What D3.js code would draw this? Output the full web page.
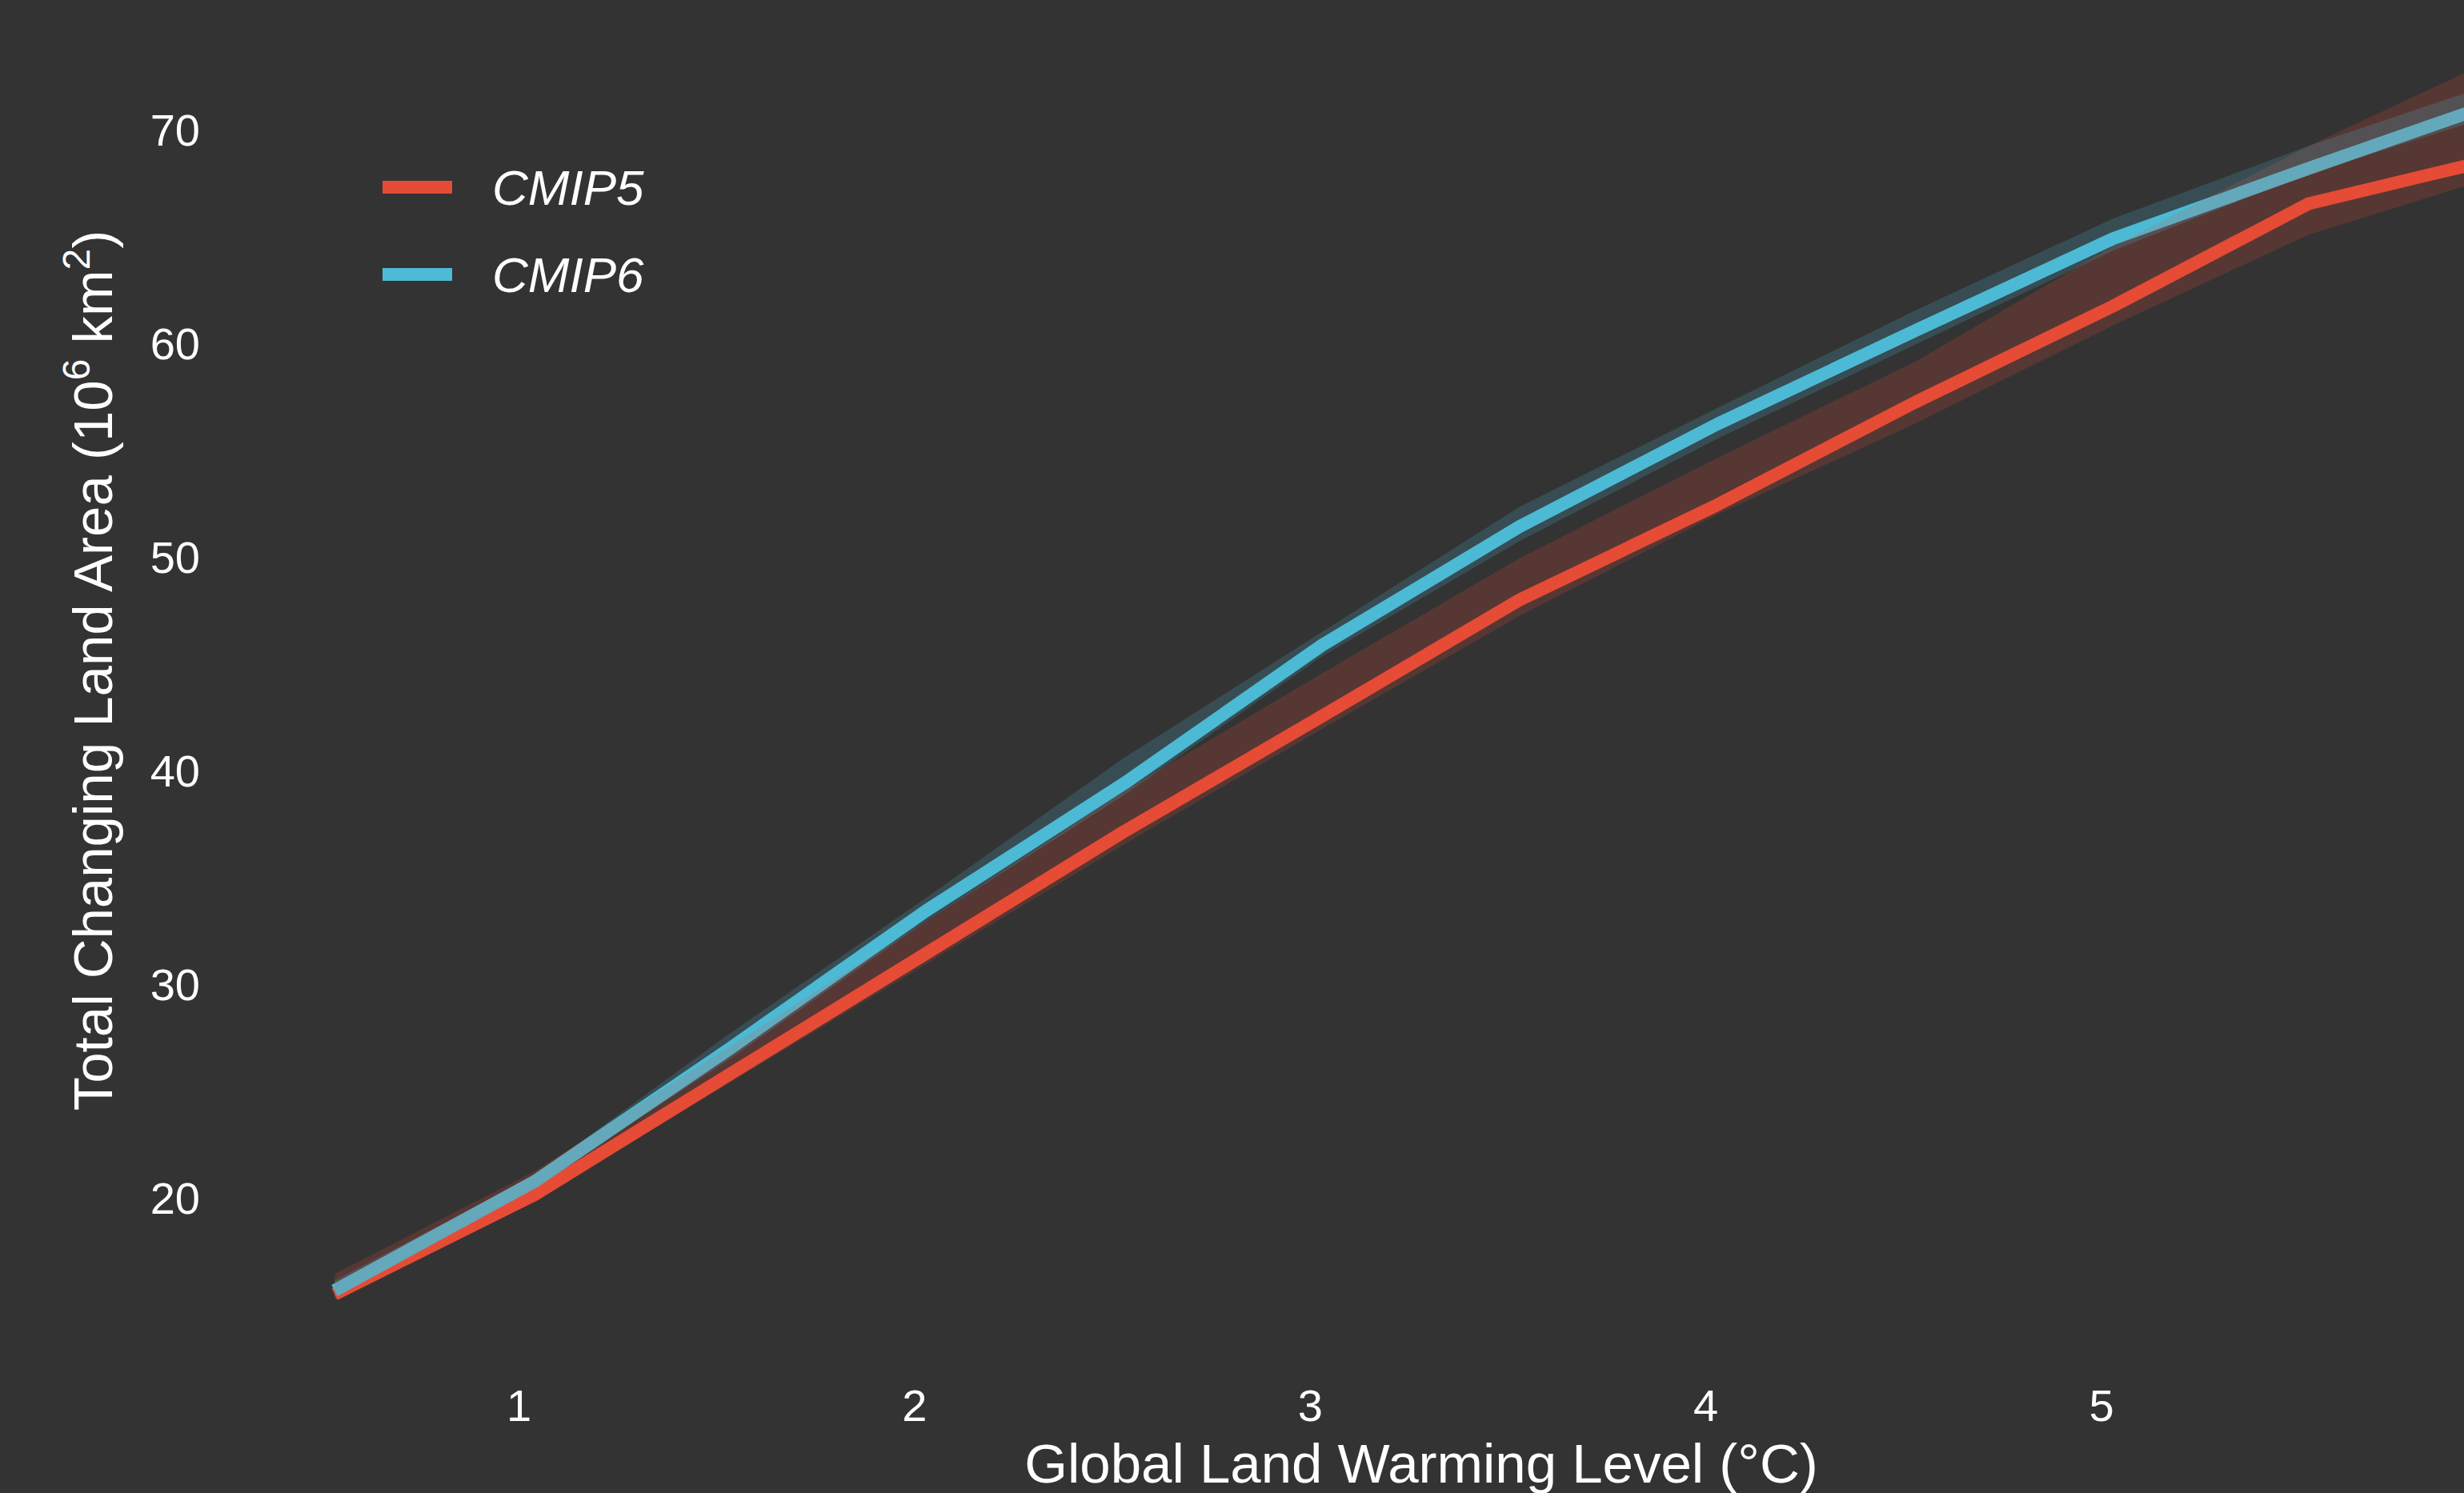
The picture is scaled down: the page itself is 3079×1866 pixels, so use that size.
<!DOCTYPE html>
<html lang="en">
	<head>
		<meta charset="utf-8">
		<title>Total Changing Land Area</title>
		<script src="https://d3js.org/d3.v7.min.js"></script>
		<style type="text/css">
			body {
				margin: 0;
				background-color: #333333;
			}
			svg text {
				font-family: "Liberation Sans", Arial, Helvetica, sans-serif;
				fill: #ffffff;
			}
		</style>
	</head>
	<body>
		<script type="text/javascript">

			//Data
			var warming = [0.535, 1.04, 1.53, 2.03, 2.53, 3.03, 3.53, 4.03, 4.53, 5.03, 5.525, 6.02];

			var cmip5Mean  = [15.45, 20.1, 25.7, 31.4, 37.1, 42.5, 47.95, 52.4, 57.2, 61.7, 66.5, 68.7];
			var cmip5Upper = [16.4, 21.2, 27.0, 32.9, 39.0, 44.5, 49.9, 54.6, 59.1, 64.5, 69.2, 73.5];
			var cmip5Lower = [15.2, 19.8, 25.3, 30.9, 36.5, 41.9, 47.2, 51.95, 56.2, 60.8, 65.05, 67.9];

			var cmip6Mean  = [15.62, 20.72, 26.9, 33.4, 39.35, 45.82, 51.38, 56.18, 60.55, 64.86, 68.15, 71.35];
			var cmip6Upper = [16.1, 21.0, 27.6, 34.0, 40.55, 46.44, 52.3, 56.93, 61.5, 65.8, 69.2, 72.3];
			var cmip6Lower = [15.3, 20.5, 26.4, 32.9, 38.8, 45.3, 50.7, 55.5, 59.9, 64.3, 67.9, 70.8];

			var seriesNames = ["CMIP5", "CMIP6"];
			var seriesColors = ["#E64B35", "#4DBBD5"];

			var xTicks = [1, 2, 3, 4, 5];
			var yTicks = [20, 30, 40, 50, 60, 70];

			//Width and height
			var w = 3079;
			var h = 1866;

			//Scales
			var x = d3.scaleLinear()
						.domain([1, 5])
						.range([648, 2625.6]);

			var y = d3.scaleLinear()
						.domain([20, 70])
						.range([1496, 161]);

			//Build one record per series
			var series = [
				{ name: seriesNames[0], color: seriesColors[0], mean: cmip5Mean, upper: cmip5Upper, lower: cmip5Lower },
				{ name: seriesNames[1], color: seriesColors[1], mean: cmip6Mean, upper: cmip6Upper, lower: cmip6Lower }
			];

			series.forEach(function(s) {
				s.points = warming.map(function(t, i) {
					return { x: t, mean: s.mean[i], upper: s.upper[i], lower: s.lower[i] };
				});
			});

			//Create SVG element
			var svg = d3.select("body")
						.append("svg")
						.attr("width", w)
						.attr("height", h);

			svg.append("rect")
				.attr("width", w)
				.attr("height", h)
				.attr("fill", "#333333");

			//Path generators
			var line = d3.line()
							.x(function(d) { return x(d.x); })
							.y(function(d) { return y(d.mean); });

			var area = d3.area()
							.x(function(d) { return x(d.x); })
							.y0(function(d) { return y(d.lower); })
							.y1(function(d) { return y(d.upper); });

			//Lines first, ribbons on top (as in the original)
			svg.selectAll("path.mean")
				.data(series)
				.enter()
				.append("path")
				.attr("class", "mean")
				.attr("d", function(d) { return line(d.points); })
				.attr("fill", "none")
				.attr("stroke", function(d) { return d.color; })
				.attr("stroke-width", 16)
				.attr("stroke-linejoin", "round")
				.attr("stroke-linecap", "butt");

			svg.selectAll("path.ribbon")
				.data(series)
				.enter()
				.append("path")
				.attr("class", "ribbon")
				.attr("d", function(d) { return area(d.points); })
				.attr("fill", function(d) { return d.color; })
				.attr("fill-opacity", 0.2);

			//X axis
			var xAxis = svg.append("g")
							.attr("transform", "translate(0,1736)")
							.call(d3.axisBottom(x).tickValues(xTicks).tickSize(0).tickPadding(0).tickFormat(d3.format("d")));

			xAxis.select(".domain").remove();
			xAxis.selectAll("text")
				.attr("y", 0)
				.attr("dy", "0.71em")
				.style("font-size", "56px");

			//Y axis
			var yAxis = svg.append("g")
							.attr("transform", "translate(250,0)")
							.call(d3.axisLeft(y).tickValues(yTicks).tickSize(0).tickPadding(0).tickFormat(d3.format("d")));

			yAxis.select(".domain").remove();
			yAxis.selectAll("text")
				.attr("x", 0)
				.attr("dy", "0.36em")
				.style("font-size", "56px");

			//Axis titles
			svg.append("text")
				.attr("x", 1776)
				.attr("y", 1853)
				.attr("text-anchor", "middle")
				.style("font-size", "69px")
				.text("Global Land Warming Level (°C)");

			var yTitle = svg.append("text")
							.attr("transform", "translate(140,838) rotate(-90)")
							.attr("text-anchor", "middle")
							.style("font-size", "69px");

			yTitle.append("tspan").text("Total Changing Land Area (10");
			yTitle.append("tspan").attr("dy", -28).style("font-size", "48px").text("6");
			yTitle.append("tspan").attr("dy", 28).text(" km");
			yTitle.append("tspan").attr("dy", -28).style("font-size", "48px").text("2");
			yTitle.append("tspan").attr("dy", 28).text(")");

			//Legend
			var legend = svg.selectAll("g.legend")
							.data(series)
							.enter()
							.append("g")
							.attr("class", "legend")
							.attr("transform", function(d, i) { return "translate(0," + (234 + i * 109) + ")"; });

			legend.append("line")
				.attr("x1", 478)
				.attr("x2", 565)
				.attr("stroke", function(d) { return d.color; })
				.attr("stroke-width", 16);

			legend.append("text")
				.attr("x", 615)
				.attr("y", 22)
				.style("font-size", "62px")
				.style("font-style", "italic")
				.text(function(d) { return d.name; });

		</script>
	</body>
</html>
